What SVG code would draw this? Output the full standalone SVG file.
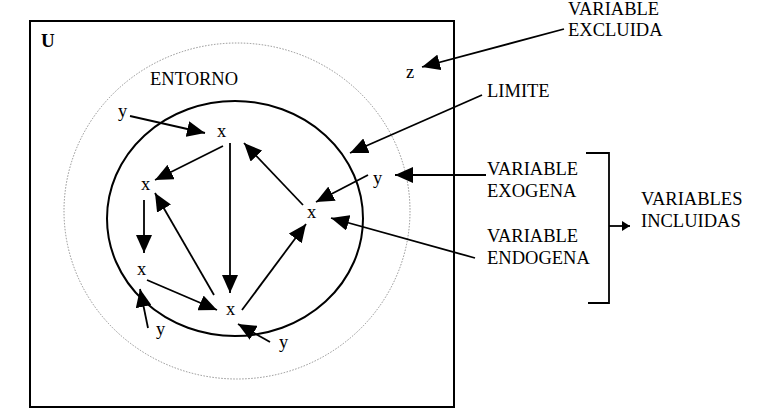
<svg xmlns="http://www.w3.org/2000/svg" width="770" height="416" viewBox="0 0 770 416">
<style>
text{font-family:"Liberation Serif","Times New Roman",serif;font-size:18.5px;fill:#000}
.c{stroke:#000;stroke-width:1.8;fill:none;marker-end:url(#ah)}
.s{stroke:#000;stroke-width:1.8;fill:none}
</style>
<defs>
<marker id="ah" markerUnits="userSpaceOnUse" markerWidth="19" markerHeight="16" refX="18" refY="8" orient="auto">
<path d="M0,0 L18,8 L0,16 z" fill="#000"/>
</marker>
<marker id="sm" markerUnits="userSpaceOnUse" markerWidth="9" markerHeight="10" refX="8" refY="5" orient="auto">
<path d="M0,0 L8,5 L0,10 z" fill="#000"/>
</marker>
</defs>
<rect width="770" height="416" fill="#fff"/>
<g id="universe">
<rect x="30" y="21" width="424" height="386" fill="none" stroke="#000" stroke-width="2"/>
<text x="41" y="47" style="font-weight:bold;font-size:19px">U</text>
</g>
<g id="entorno">
<ellipse cx="237" cy="211" rx="173" ry="168" fill="none" stroke="#777" stroke-width="0.8" stroke-dasharray="1.5,1.5"/>
<text x="150" y="85">ENTORNO</text>
</g>
<g id="limite-ellipse">
<ellipse cx="235" cy="218.5" rx="128" ry="117.5" fill="none" stroke="#000" stroke-width="2"/>
</g>
<g id="n-z"><text x="406" y="78">z</text></g>
<g id="n-y1"><text x="118" y="117">y</text></g>
<g id="n-x1"><text x="217" y="137">x</text></g>
<g id="n-x2"><text x="141" y="190">x</text></g>
<g id="n-x3"><text x="307" y="218">x</text></g>
<g id="n-y2"><text x="373" y="184">y</text></g>
<g id="n-x4"><text x="137" y="275">x</text></g>
<g id="n-x5"><text x="226" y="315">x</text></g>
<g id="n-y3"><text x="156" y="335">y</text></g>
<g id="n-y4"><text x="279" y="348">y</text></g>
<g id="l-excluida"><text x="568" y="15">VARIABLE</text><text x="568" y="36">EXCLUIDA</text></g>
<g id="l-limite"><text x="487" y="97">LIMITE</text></g>
<g id="l-exogena"><text x="487" y="175">VARIABLE</text><text x="487" y="197">EXOGENA</text></g>
<g id="l-endogena"><text x="487" y="242">VARIABLE</text><text x="487" y="264">ENDOGENA</text></g>
<g id="l-incluidas"><text x="641" y="205">VARIABLES</text><text x="641" y="227">INCLUIDAS</text></g>
<g id="connectors">
<line class="c" x1="564" y1="29" x2="422" y2="67"/>
<line class="c" x1="482" y1="95" x2="350" y2="153"/>
<line class="c" x1="486" y1="175" x2="395" y2="175"/>
<line class="c" x1="475" y1="258" x2="331" y2="218"/>
<line class="c" x1="130" y1="116" x2="205" y2="133"/>
<line class="c" x1="223" y1="146" x2="155" y2="180"/>
<line class="c" x1="230" y1="143" x2="230" y2="293"/>
<line class="c" x1="303" y1="205" x2="244" y2="143"/>
<line class="c" x1="368" y1="175" x2="316" y2="202"/>
<line class="c" x1="144" y1="200" x2="144" y2="253"/>
<line class="c" x1="214" y1="295" x2="155" y2="193"/>
<line class="c" x1="147" y1="280" x2="217" y2="310"/>
<line class="c" x1="242" y1="310" x2="306" y2="224"/>
<line class="c" x1="148" y1="328" x2="140" y2="289"/>
<line class="c" x1="270" y1="342" x2="238" y2="324"/>
<polyline class="s" points="586,153 609,153 609,303 588,303"/>
<line x1="609" y1="226" x2="630" y2="226" stroke="#000" stroke-width="1.8" marker-end="url(#sm)"/>
</g>
</svg>
